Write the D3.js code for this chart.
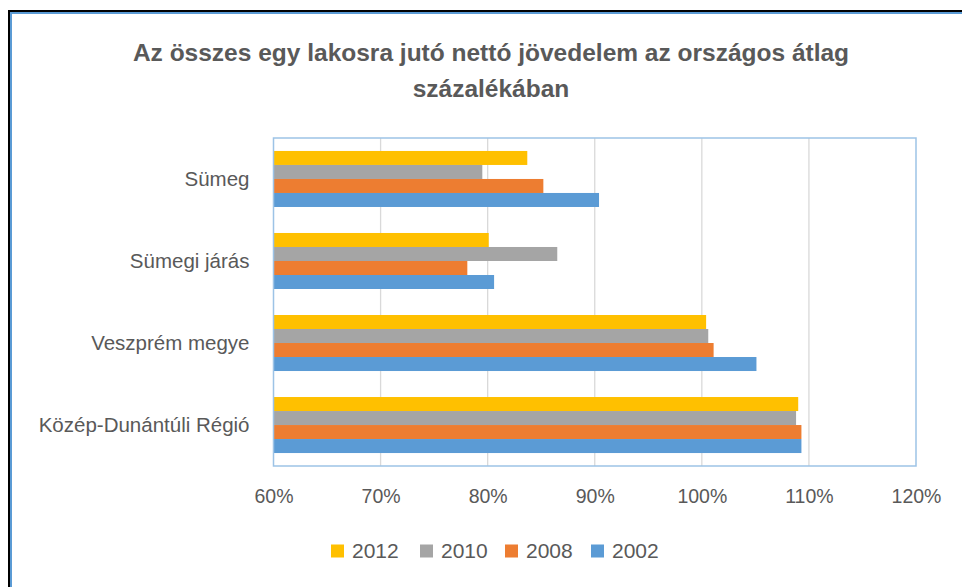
<!DOCTYPE html>
<html>
<head>
<meta charset="utf-8">
<script src="https://cdn.jsdelivr.net/npm/d3@7"></script>
<style>
  body { margin: 0; background: #fff; }
  svg { display: block; }
</style>
</head>
<body>
<div id="chart"></div>
<script>
const categories = ["Sümeg", "Sümegi járás", "Veszprém megye", "Közép-Dunántúli Régió"];
const seriesNames = ["2012", "2010", "2008", "2002"];
const seriesColors = ["#FFC000", "#A5A5A5", "#ED7D31", "#5B9BD5"];
// values in %, one array per series, in category order
const values2012 = [83.7, 80.1, 100.4, 109.0];
const values2010 = [79.5, 86.5, 100.6, 108.8];
const values2008 = [85.2, 78.1, 101.1, 109.3];
const values2002 = [90.4, 80.6, 105.1, 109.3];
const xTicks = [60, 70, 80, 90, 100, 110, 120];
const titleLines = ["Az összes egy lakosra jutó nettó jövedelem az országos átlag", "százalékában"];

const seriesValues = [values2012, values2010, values2008, values2002];

const width = 962, height = 587;
const plot = { left: 273.5, right: 916, top: 138, bottom: 466 };
const textColor = "#595959";
const font = "'Liberation Sans', Arial, sans-serif";

const svg = d3.select("#chart").append("svg")
    .attr("width", width)
    .attr("height", height);

// outer frame (black + blue line)
svg.append("path")
    .attr("d", `M9,${height} V11 H${width}`)
    .attr("fill", "none").attr("stroke", "#000").attr("stroke-width", 2);
svg.append("path")
    .attr("d", `M11,${height} V13 H${width}`)
    .attr("fill", "none").attr("stroke", "#5B9BD5").attr("stroke-width", 2);

// title
svg.append("g").selectAll("text")
    .data(titleLines)
    .enter().append("text")
    .attr("x", 491)
    .attr("y", (d, i) => 61 + i * 36)
    .attr("text-anchor", "middle")
    .style("font-family", font)
    .style("font-weight", "bold")
    .style("font-size", "24.5px")
    .style("fill", textColor)
    .text(d => d);

const x = d3.scaleLinear()
    .domain([60, 120])
    .range([plot.left, plot.right]);

const y = d3.scaleBand()
    .domain(categories)
    .range([plot.top, plot.bottom])
    .paddingInner(0.317)
    .paddingOuter(0.158);

const ySub = d3.scaleBand()
    .domain(seriesNames)
    .range([0, y.bandwidth()]);

// gridlines
svg.append("g")
    .selectAll("line")
    .data(xTicks.slice(1, -1))
    .enter().append("line")
    .attr("x1", d => x(d)).attr("x2", d => x(d))
    .attr("y1", plot.top).attr("y2", plot.bottom)
    .attr("stroke", "#D9D9D9").attr("stroke-width", 1.3);

// bars
const groups = svg.append("g")
    .selectAll("g")
    .data(categories)
    .enter().append("g")
    .attr("transform", d => `translate(0,${y(d)})`);

groups.selectAll("rect")
    .data((c, ci) => seriesNames.map((s, si) => ({ series: s, color: seriesColors[si], value: seriesValues[si][ci] })))
    .enter().append("rect")
    .attr("x", x(60))
    .attr("y", d => ySub(d.series))
    .attr("width", d => x(d.value) - x(60))
    .attr("height", ySub.bandwidth())
    .attr("fill", d => d.color);

// plot area border
svg.append("rect")
    .attr("x", plot.left).attr("y", plot.top)
    .attr("width", plot.right - plot.left)
    .attr("height", plot.bottom - plot.top)
    .attr("fill", "none")
    .attr("stroke", "#9DC3E6")
    .attr("stroke-width", 1.5);

// x axis labels
const xAxis = svg.append("g")
    .attr("transform", `translate(0,${plot.bottom})`)
    .call(d3.axisBottom(x).tickValues(xTicks).tickSize(0).tickPadding(23).tickFormat(d => d + "%"));
xAxis.select(".domain").remove();
xAxis.selectAll("text")
    .style("font-family", font)
    .style("font-size", "19.5px")
    .style("fill", textColor);

// y axis labels
const yAxis = svg.append("g")
    .attr("transform", `translate(${plot.left},0)`)
    .call(d3.axisLeft(y).tickSize(0).tickPadding(24));
yAxis.select(".domain").remove();
yAxis.selectAll("text")
    .style("font-family", font)
    .style("font-size", "20.5px")
    .style("fill", textColor);

// legend
const legendX = [331, 420, 505, 591];
const legend = svg.append("g")
    .selectAll("g")
    .data(seriesNames)
    .enter().append("g")
    .attr("transform", (d, i) => `translate(${legendX[i]},551)`);
legend.append("rect")
    .attr("x", 0).attr("y", -6.5)
    .attr("width", 13).attr("height", 13)
    .attr("fill", (d, i) => seriesColors[i]);
legend.append("text")
    .attr("x", 21).attr("y", 0)
    .attr("dy", "0.35em")
    .style("font-family", font)
    .style("font-size", "21px")
    .style("fill", textColor)
    .text(d => d);
</script>
</body>
</html>
